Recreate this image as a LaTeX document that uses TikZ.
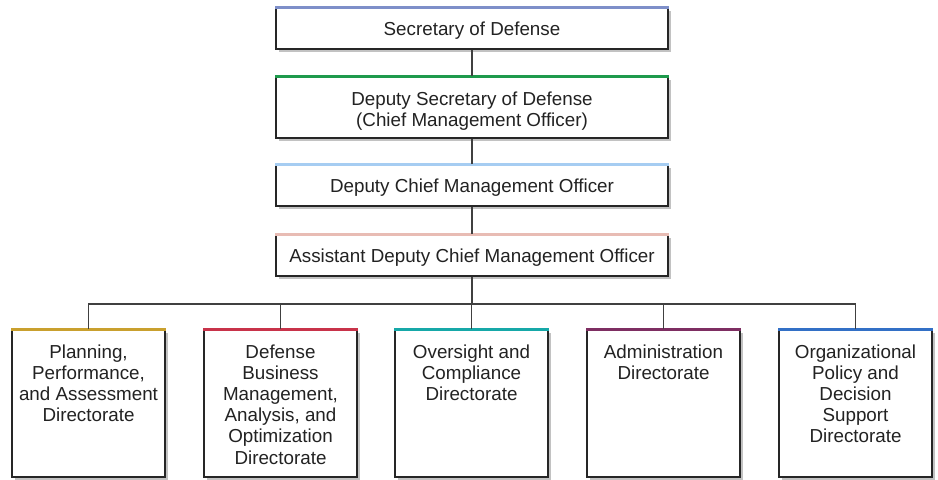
\documentclass[tikz,border=0pt]{standalone}
\usepackage{fontspec}
\setmainfont{Liberation Sans}
\usetikzlibrary{shadows}
\definecolor{cA}{HTML}{7E8FC9}
\definecolor{cB}{HTML}{1E9A4C}
\definecolor{cC}{HTML}{A6CDF2}
\definecolor{cD}{HTML}{E8BCB4}
\definecolor{cE}{HTML}{C9A02E}
\definecolor{cF}{HTML}{C8334A}
\definecolor{cG}{HTML}{16A8A8}
\definecolor{cH}{HTML}{7E2E62}
\definecolor{cI}{HTML}{3370C6}
\definecolor{txt}{HTML}{222222}
\tikzset{
  lbl/.style={font=\fontsize{14.1pt}{15.8pt}\selectfont, align=center, text=txt, inner sep=0pt},
  base/.style={draw=black!85, line width=0.8pt, fill=white,
    drop shadow={shadow xshift=2.2pt, shadow yshift=-2.2pt, fill=black!40, opacity=0.6},
    inner sep=0pt},
  topbox/.style={base, minimum width=294pt, minimum height=#1},
  dirbox/.style={base, minimum width=114.75pt, minimum height=110.25pt},
  conn/.style={draw=black!75, line width=0.8pt},
  band/.style={line width=2.2pt, line cap=butt}
}
\begin{document}
\begin{tikzpicture}[x=0.75pt,y=-0.75pt]
\useasboundingbox (0,0) rectangle (938,479);
\node[topbox=30.75pt] (sec) at (472,28.5) {};
\node[topbox=45.75pt] (dep) at (472,107.5) {};
\node[topbox=30.75pt] (dcmo) at (472,185.5) {};
\node[topbox=30.75pt] (adcmo) at (472,255.5) {};
\node[lbl] at ([yshift=-1.5pt]sec.center) {Secretary of Defense};
\node[lbl] at ([yshift=-2.5pt]dep.center) {Deputy Secretary of Defense\\(Chief Management Officer)};
\node[lbl] at ([yshift=-1.5pt]dcmo.center) {Deputy Chief Management Officer};
\node[lbl] at ([yshift=-1.5pt]adcmo.center) {Assistant Deputy Chief Management Officer};
\node[dirbox] (d1) at (88.5,403.5) {};
\node[dirbox] (d2) at (280.5,403.5) {};
\node[dirbox] (d3) at (471.5,403.5) {};
\node[dirbox] (d4) at (663.5,403.5) {};
\node[dirbox] (d5) at (855.5,403.5) {};
\foreach \n/\t in {d1/{Planning,\\Performance,\\and Assessment\\Directorate},
  d2/{Defense\\Business\\Management,\\Analysis, and\\Optimization\\Directorate},
  d3/{Oversight and\\Compliance\\Directorate},
  d4/{Administration\\Directorate},
  d5/{Organizational\\Policy and\\Decision\\Support\\Directorate}}
  \node[anchor=north, lbl] at ([yshift=-11.5pt]\n.north) {\t};
\draw[band, cA] (sec.north west) -- (sec.north east);
\draw[band, cB] (dep.north west) -- (dep.north east);
\draw[band, cC] (dcmo.north west) -- (dcmo.north east);
\draw[band, cD] (adcmo.north west) -- (adcmo.north east);
\draw[band, cE] (d1.north west) -- (d1.north east);
\draw[band, cF] (d2.north west) -- (d2.north east);
\draw[band, cG] (d3.north west) -- (d3.north east);
\draw[band, cH] (d4.north west) -- (d4.north east);
\draw[band, cI] (d5.north west) -- (d5.north east);
\coordinate (bus) at (472,304);
\draw[conn] (sec.south) -- (dep.north);
\draw[conn] (dep.south) -- (dcmo.north);
\draw[conn] (dcmo.south) -- (adcmo.north);
\draw[conn] (adcmo.south) -- (bus);
\foreach \n in {d1,d2,d3,d4,d5}
  \draw[conn] (bus) -| (\n.north);
\end{tikzpicture}
\end{document}
